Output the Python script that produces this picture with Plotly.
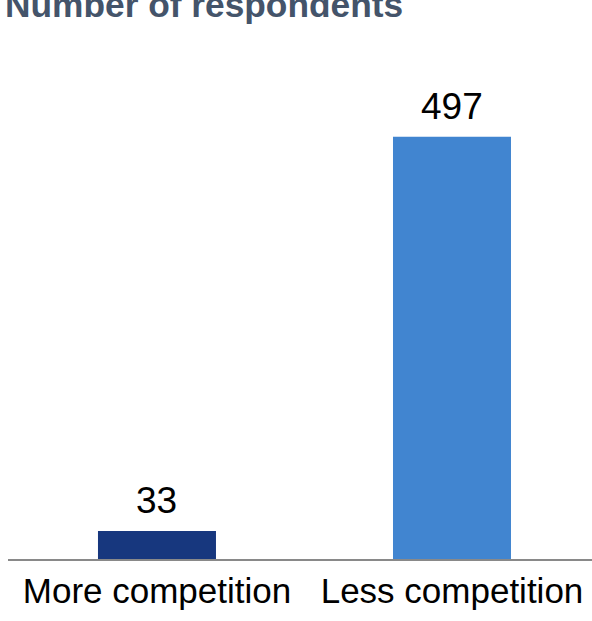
import plotly.graph_objects as go

categories = ["More competition", "Less competition"]
values = [33, 497]
bar_colors = ["#17377e", "#4185d0"]
title_text = "Number of respondents"

FONT = "Liberation Sans, Arial, sans-serif"

fig = go.Figure(
    go.Bar(
        x=categories,
        y=values,
        marker=dict(color=bar_colors, line=dict(width=0)),
        width=0.4,
        cliponaxis=False,
        hoverinfo="x+y",
    )
)

# value labels above bars, placed in data coordinates
for c, v in zip(categories, values):
    fig.add_annotation(
        x=c, y=v, xref="x", yref="y",
        text=str(v), showarrow=False,
        xanchor="center", yanchor="bottom", yshift=8,
        font=dict(family=FONT, size=37, color="#000000"),
    )

# title (partially clipped by the top edge, as in the reference)
fig.add_annotation(
    x=-0.009, y=1.0, xref="paper", yref="paper",
    text="<b>" + title_text + "</b>", showarrow=False,
    xanchor="left", yanchor="bottom", yshift=14,
    font=dict(family=FONT, size=35.3, color="#44546a"),
)

fig.update_layout(
    width=592,
    height=621,
    margin=dict(l=8, r=0, t=40, b=62),
    paper_bgcolor="white",
    plot_bgcolor="white",
    showlegend=False,
    font=dict(family=FONT, color="#000000"),
    xaxis=dict(
        range=[-0.505, 1.4746],
        showline=True,
        linecolor="#898989",
        linewidth=2,
        showgrid=False,
        zeroline=False,
        ticks="",
        tickfont=dict(family=FONT, size=35, color="#000000"),
        fixedrange=True,
    ),
    yaxis=dict(
        range=[0, 611],
        visible=False,
        showgrid=False,
        zeroline=False,
        fixedrange=True,
    ),
)

fig.write_html(
    "out.html",
    config={"displayModeBar": False},
    post_script="document.body.style.margin='0';document.body.style.overflow='hidden';",
)
